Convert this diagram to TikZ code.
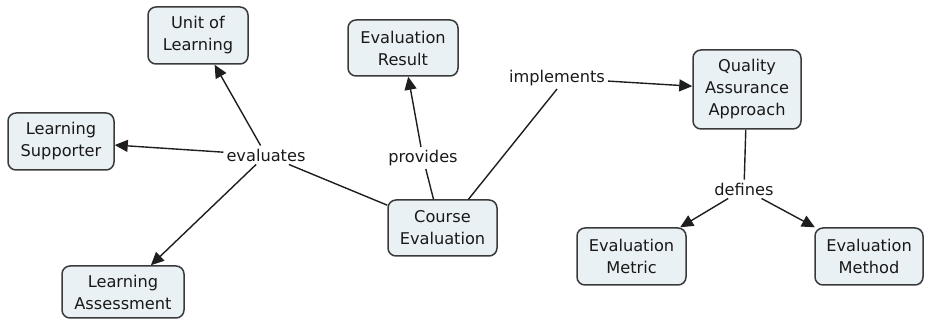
\documentclass[tikz,border=0pt]{standalone}
\usepackage{fontspec}
\setmainfont{DejaVu Sans}
\usetikzlibrary{arrows.meta}
\definecolor{boxfill}{HTML}{EAF1F4}
\definecolor{boxline}{HTML}{3A3A3A}
\definecolor{linkc}{HTML}{1E1E1E}
\tikzset{
  concept/.style={draw=boxline, fill=boxfill, line width=1.5pt, rounded corners=8pt,
    align=center, inner sep=2pt, font=\fontsize{16.2}{22}\selectfont, text=black!90},
  lbl/.style={inner sep=3pt, font=\fontsize{16.2}{22}\selectfont, text=black!90},
  link/.style={draw=linkc, line width=1.4pt},
  arr/.style={link, -{Triangle[length=13pt,width=12pt]}}
}
\begin{document}
\begin{tikzpicture}[x=1pt,y=-1pt]
\useasboundingbox (0,0) rectangle (927,323);
\node[concept, minimum width=100pt, minimum height=57pt] (ul) at (198,35.5) {Unit of\\Learning};
\node[concept, minimum width=110pt, minimum height=56pt] (er) at (403,48) {Evaluation\\Result};
\node[concept, minimum width=106pt, minimum height=57pt] (ls) at (61,141.5) {Learning\\Supporter};
\node[concept, minimum width=109pt, minimum height=56pt] (ce) at (442.5,228) {Course\\Evaluation};
\node[concept, minimum width=108pt, minimum height=79pt] (qa) at (747,89.5) {Quality\\Assurance\\Approach};
\node[concept, minimum width=109pt, minimum height=57pt] (em) at (631.5,256.5) {Evaluation\\Metric};
\node[concept, minimum width=108pt, minimum height=57pt] (eh) at (869,256.5) {Evaluation\\Method};
\node[concept, minimum width=122pt, minimum height=52pt] (la) at (123,292) {Learning\\Assessment};

\node[lbl] (ev) at (266,155) {evaluates};
\node[lbl] (pr) at (423,158) {provides};
\node[lbl] (im) at (557,78) {implements};
\node[lbl] (de) at (744,189) {defines};

\draw[link] (ce) -- (ev);
\draw[arr] (ev) -- (ul);
\draw[arr] (ev) -- (ls);
\draw[arr] (ev) -- (la);
\draw[link] ([xshift=-9pt]ce.north) -- (pr);
\draw[arr] (pr) -- (er);
\draw[link] ([xshift=26pt]ce.north) -- (im.south);
\draw[arr] (im) -- (qa);
\draw[link] (qa) -- (de);
\draw[arr] (de) -- (em);
\draw[arr] (de) -- (eh);
\end{tikzpicture}
\end{document}
